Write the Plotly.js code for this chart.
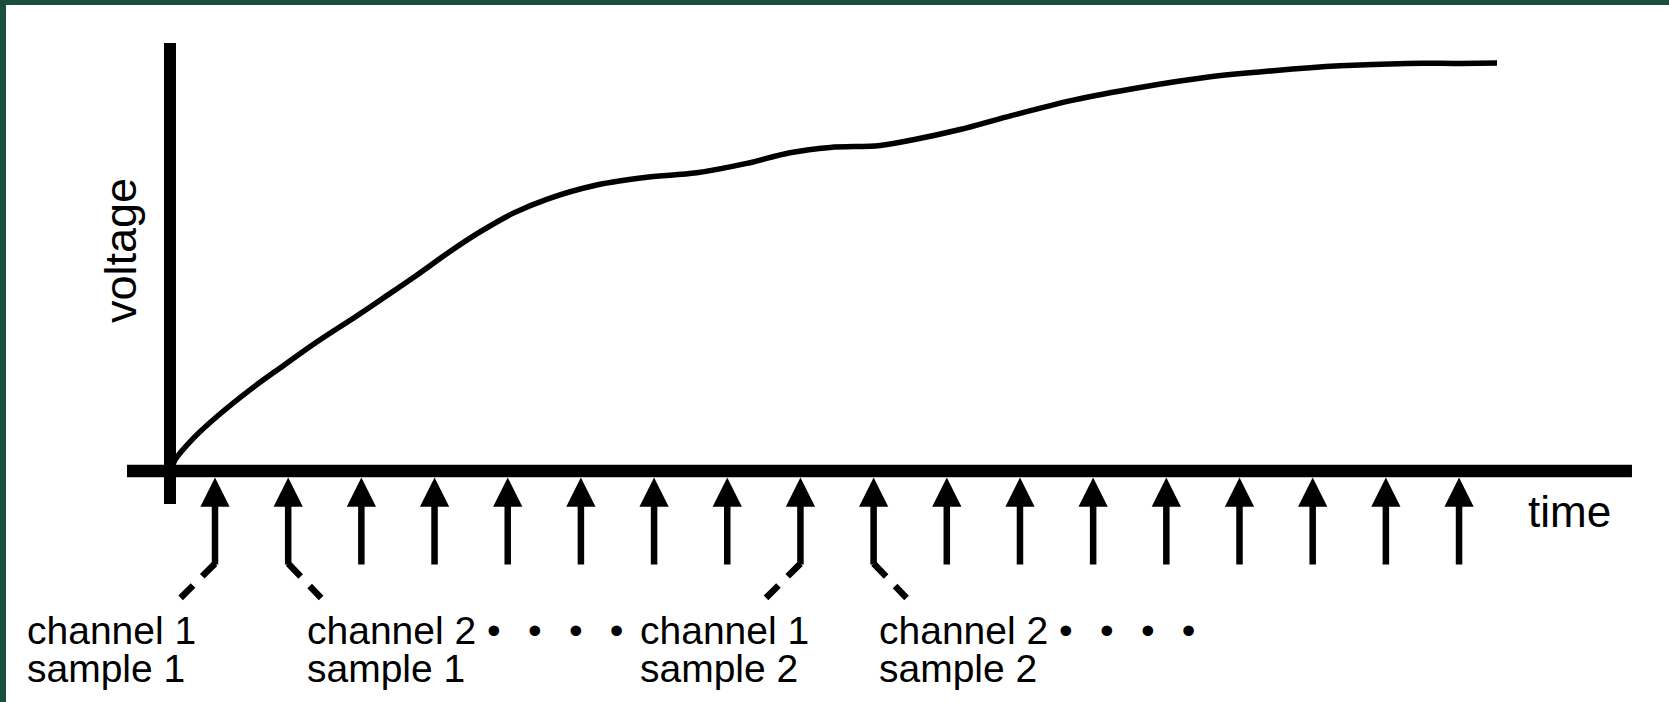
<!DOCTYPE html>
<html>
<head>
<meta charset="utf-8">
<script src="https://cdn.plot.ly/plotly-3.0.1.min.js"></script>
<style>
  html, body { margin: 0; padding: 0; background: #ffffff; }
  #chart { width: 1669px; height: 702px; }
</style>
</head>
<body>
<div id="chart"></div>
<script>
// ---- data ----
// sampling instants (one arrow per sample, alternating channel 1 / channel 2)
const sampleTimes = [1, 2, 3, 4, 5, 6, 7, 8, 9, 10, 11, 12, 13, 14, 15, 16, 17, 18];

// the analogue signal
const curveTime = [0.40, 0.453, 0.703, 1.023, 1.478, 1.933, 2.390, 2.936, 3.300, 3.756, 4.211,
                   4.621, 5.076, 5.533, 6.216, 6.899, 7.582, 8.266, 8.857, 9.404, 10.087,
                   10.542, 11.180, 11.819, 12.729, 13.640, 14.552, 15.462, 16.373, 17.285,
                   18.013, 18.519];
const curveVoltage = [0.0, 0.027, 0.080, 0.133, 0.199, 0.258, 0.316, 0.380, 0.424, 0.480, 0.538,
                      0.586, 0.632, 0.666, 0.701, 0.720, 0.731, 0.754, 0.780, 0.793, 0.798,
                      0.812, 0.837, 0.868, 0.909, 0.940, 0.965, 0.981, 0.993, 0.999,
                      0.999, 1.000];

// labelled samples
const labelledSamples = [1, 2, 9, 10];
const labelLine1 = ['channel 1', 'channel 2', 'channel 1', 'channel 2'];
const labelLine2 = ['sample 1', 'sample 1', 'sample 2', 'sample 2'];
const labelTrailingDots = [false, true, false, true];

const axisTitleX = 'time';
const axisTitleY = 'voltage';

// ---- layout constants ----
const originTime = 0.385;            // where the voltage axis crosses
const timeAxisSpan = [-0.2025, 20.363];
const voltAxisSpan = [-0.081, 1.049];
const arrowTailV = -0.233;
const connectorEndV = -0.311;
const connectorDT = [-0.47, 0.45, -0.47, 0.45];
const labelX = [-1.583, 2.244, 6.794, 10.060];
const labelY1 = -0.390, labelY2 = -0.485;

const INK = '#000000';
const FONT = 'Liberation Sans, Arial, Helvetica, sans-serif';
const SEP = '\u2002\u2009';
const DOTS = '\u00A0\u2022' + SEP + '\u2022' + SEP + '\u2022' + SEP + '\u2022';

const traces = [{
  type: 'scatter', mode: 'lines',
  x: curveTime, y: curveVoltage,
  line: { color: INK, width: 5.5, shape: 'spline', smoothing: 1.0 },
  hoverinfo: 'skip', showlegend: false
}];

const shapes = [
  { type: 'line', xref: 'x', yref: 'y', x0: timeAxisSpan[0], x1: timeAxisSpan[1], y0: 0, y1: 0,
    line: { color: INK, width: 12.5 } },
  { type: 'line', xref: 'x', yref: 'y', x0: originTime, x1: originTime, y0: voltAxisSpan[0], y1: voltAxisSpan[1],
    line: { color: INK, width: 12 } }
];
labelledSamples.forEach((s, i) => {
  const t = sampleTimes[s - 1];
  shapes.push({ type: 'line', xref: 'x', yref: 'y', x0: t, y0: arrowTailV + 0.006,
    x1: t + connectorDT[i], y1: connectorEndV,
    line: { color: INK, width: 6.5, dash: '18px,13px' } });
});

const annotations = [];
sampleTimes.forEach(t => {
  annotations.push({ x: t, y: 0, xref: 'x', yref: 'y', ax: t, ay: arrowTailV, axref: 'x', ayref: 'y',
    text: '', showarrow: true, arrowhead: 2, arrowsize: 0.9, arrowwidth: 6.5, arrowcolor: INK,
    standoff: 6.5 });
});
labelledSamples.forEach((s, i) => {
  annotations.push({ x: labelX[i], y: labelY1, xref: 'x', yref: 'y', xanchor: 'left', yanchor: 'middle',
    text: labelLine1[i] + (labelTrailingDots[i] ? DOTS : ''), showarrow: false, borderpad: 0,
    font: { family: FONT, size: 39, color: INK } });
  annotations.push({ x: labelX[i], y: labelY2, xref: 'x', yref: 'y', xanchor: 'left', yanchor: 'middle',
    text: labelLine2[i], showarrow: false, borderpad: 0,
    font: { family: FONT, size: 39, color: INK } });
});
annotations.push({ x: 18.915, y: -0.099, xref: 'x', yref: 'y', xanchor: 'left', yanchor: 'middle',
  text: axisTitleX, showarrow: false, font: { family: FONT, size: 44, color: INK } });
annotations.push({ x: -0.298, y: 0.539, xref: 'x', yref: 'y', xanchor: 'center', yanchor: 'middle',
  text: axisTitleY, textangle: -90, showarrow: false, font: { family: FONT, size: 45, color: INK } });

const layout = {
  width: 1669, height: 702,
  margin: { l: 6, t: 5, r: 0, b: 0, pad: 0 },
  paper_bgcolor: '#18503b',
  plot_bgcolor: '#ffffff',
  xaxis: { range: [-1.856, 20.869], visible: false, fixedrange: true },
  yaxis: { range: [-0.5662, 1.1422], visible: false, fixedrange: true },
  shapes: shapes,
  annotations: annotations,
  showlegend: false
};

Plotly.newPlot('chart', traces, layout, { displayModeBar: false, staticPlot: true });
</script>
</body>
</html>
